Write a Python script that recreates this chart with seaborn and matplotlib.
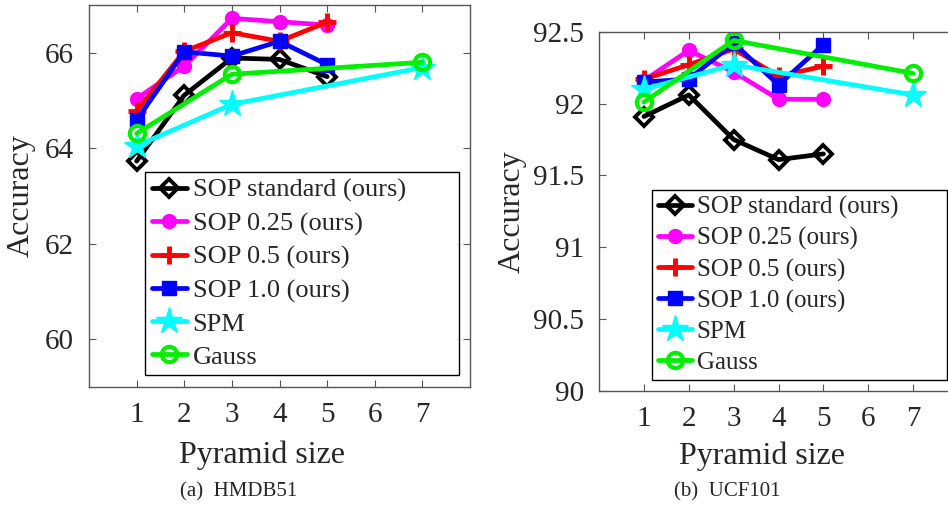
import matplotlib
matplotlib.use('Agg')
import matplotlib.pyplot as plt
import seaborn as sns
import pandas as pd

# data
sizes_sop = [1, 2, 3, 4, 5]
sizes_base = [1, 3, 7]

hmdb_sop_standard = [63.73, 65.11, 65.89, 65.86, 65.50]
hmdb_sop_025 = [65.04, 65.72, 66.72, 66.65, 66.58]
hmdb_sop_05 = [64.78, 66.03, 66.42, 66.24, 66.64]
hmdb_sop_10 = [64.59, 66.02, 65.93, 66.24, 65.75]
hmdb_spm = [64.05, 64.92, 65.69]
hmdb_gauss = [64.31, 65.55, 65.80]

ucf_sop_standard = [91.91, 92.06, 91.75, 91.61, 91.65]
ucf_sop_025 = [92.16, 92.37, 92.22, 92.03, 92.03]
ucf_sop_05 = [92.17, 92.27, 92.38, 92.19, 92.26]
ucf_sop_10 = [92.15, 92.17, 92.42, 92.13, 92.41]
ucf_spm = [92.10, 92.27, 92.06]
ucf_gauss = [92.01, 92.44, 92.21]

labels = ['SOP standard (ours)', 'SOP 0.25 (ours)', 'SOP 0.5 (ours)',
          'SOP 1.0 (ours)', 'SPM', 'Gauss']

sns.set_style('ticks')
plt.rcParams['font.family'] = ['Liberation Serif', 'DejaVu Serif']

# seaborn gives markers a white edge by default, so set mec for each one
styles = [
    dict(color='black', marker='D', mfc='none', mec='black', ms=9, mew=2.8),
    dict(color='#ff00ff', marker='o', mfc='#ff00ff', mec='#ff00ff', ms=10, mew=1),
    dict(color='red', marker='+', mec='red', ms=13, mew=3.5),
    dict(color='blue', marker='s', mfc='blue', mec='blue', ms=10, mew=1),
    dict(color='cyan', marker='*', mfc='cyan', mec='cyan', ms=20, mew=1),
    dict(color='#00ee00', marker='o', mfc='none', mec='#00ee00', ms=11, mew=3),
]

fig = plt.figure(figsize=(9.48, 5.05), dpi=100)
ax1 = fig.add_axes([0.0939, 0.2337, 0.4019, 0.7564])
ax2 = fig.add_axes([0.6319, 0.2257, 0.3787, 0.7115])


def draw(ax, series, ylim, yticks, yticklabels, legfs, lsp):
    xs = [sizes_sop] * 4 + [sizes_base] * 2
    for x, y, lab, st in zip(xs, series, labels, styles):
        df = pd.DataFrame({'x': x, 'y': y})
        sns.lineplot(data=df, x='x', y='y', ax=ax, label=lab, lw=3.4,
                     linestyle='-', **st)
    ax.set_xlim(0, 8)
    ax.set_ylim(*ylim)
    ax.set_xticks(range(1, 8))
    ax.set_yticks(yticks)
    ax.set_yticklabels(yticklabels)
    ax.tick_params(direction='in', top=True, right=True, labelsize=21,
                   length=5, color='#555555', pad=11)
    for s in ax.spines.values():
        s.set_color('#555555')
        s.set_linewidth(1)
    ax.set_xlabel('Pyramid size', fontsize=23)
    ax.set_ylabel('Accuracy', fontsize=23)
    ax.xaxis.set_label_coords(0.455, -0.14)
    leg = ax.legend(loc='lower left', bbox_to_anchor=(0.147, 0.031, 0.823, 0.5),
                    mode='expand', fontsize=legfs, fancybox=False,
                    edgecolor='black', framealpha=1, handlelength=1.35,
                    handletextpad=0.2, borderpad=0.25, labelspacing=lsp,
                    borderaxespad=0)
    leg.get_frame().set_linewidth(1)


draw(ax1, [hmdb_sop_standard, hmdb_sop_025, hmdb_sop_05, hmdb_sop_10,
           hmdb_spm, hmdb_gauss],
     (59, 67), [60, 62, 64, 66], ['60', '62', '64', '66'], 19, 0.36)
ax1.yaxis.set_label_coords(-0.14, 0.5)

draw(ax2, [ucf_sop_standard, ucf_sop_025, ucf_sop_05, ucf_sop_10,
           ucf_spm, ucf_gauss],
     (90, 92.5), [90, 90.5, 91, 91.5, 92, 92.5],
     ['90', '90.5', '91', '91.5', '92', '92.5'], 18, 0.32)
ax2.yaxis.set_label_coords(-0.2, 0.5)

fig.text(239 / 948, 1 - 492 / 505, '(a)  HMDB51', ha='center', va='center', fontsize=15)
fig.text(727 / 948, 1 - 492 / 505, '(b)  UCF101', ha='center', va='center', fontsize=15)

fig.savefig('out.png', dpi=100)
